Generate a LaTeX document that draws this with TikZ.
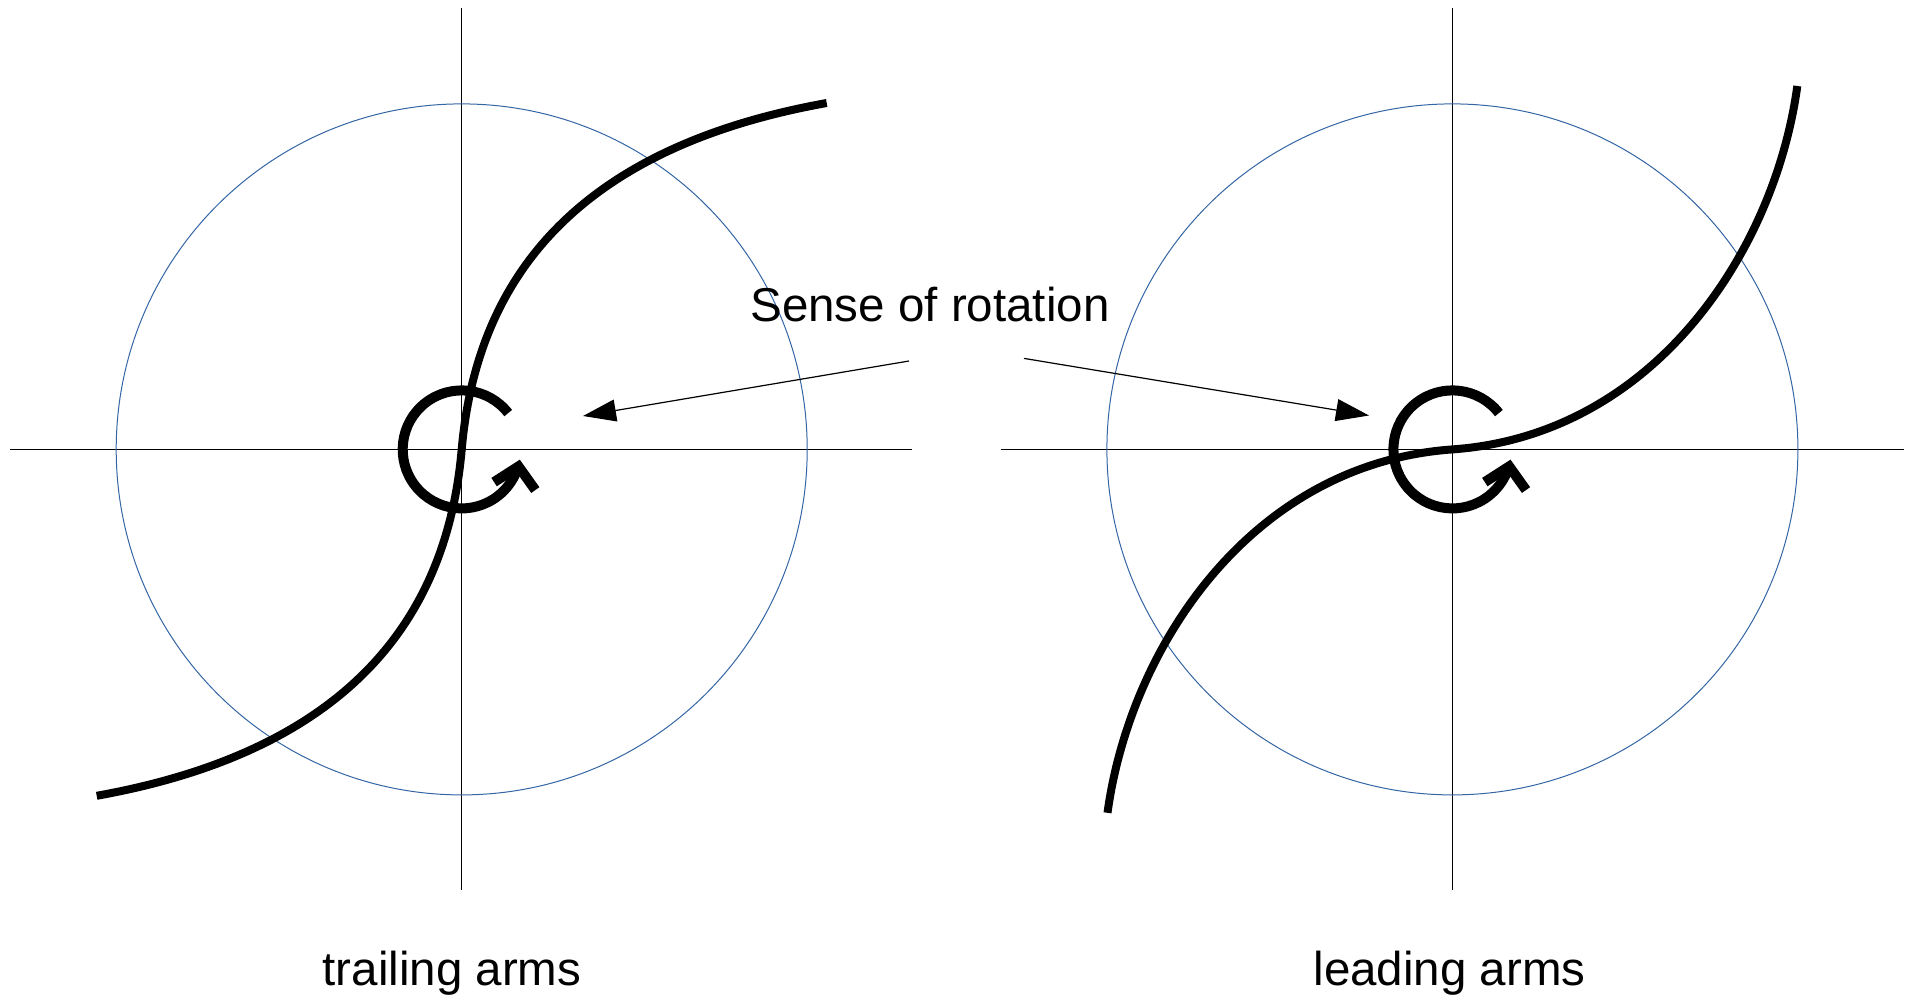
\documentclass[tikz,border=0pt]{standalone}
\usepackage{fontspec}
\setmainfont{Liberation Sans}
\usepackage{tikz}
\usetikzlibrary{
  arrows.meta,
  bending
}
\definecolor{axiscolor}{RGB}{0, 0, 0}
\definecolor{orbitcolor}{RGB}{52, 101, 164}
\definecolor{armcolor}{RGB}{0, 0, 0}
\definecolor{labelcolor}{RGB}{0, 0, 0}
\tikzset{
axisline/.style={
  draw=axiscolor,
  line width=1pt
},
orbit/.style={
  draw=orbitcolor,
  line width=1pt
},
arm/.style={
  draw=armcolor,
  line width=8pt
},
spinarrow/.style={
  -{Straight Barb[sharp,length=20pt,width=42pt]},
  line width=10pt,
  draw=armcolor
},
pointer/.style={
  -{Triangle[length=33pt,width=22pt]},
  line width=1.2pt,
  draw=axiscolor
},
labeltext/.style={
  font=\fontsize{47.5}{57}\selectfont,
  text=labelcolor,
  inner sep=0pt,
  anchor=base
}
}

\begin{document}
\begin{tikzpicture}[x=1pt,y=-1pt]
\useasboundingbox (0,0) rectangle (1913,998);
\coordinate (ctrail) at (461.7,449.4);
\coordinate (clead) at (1452.4,449.4);

% axes and reference circles
\draw[axisline] (10,449.4) -- (912,449.4);
\draw[axisline] (461.7,8) -- (461.7,890);
\draw[orbit] (ctrail) circle[radius=345.5];
\draw[axisline] (1000.5,449.4) -- (1903.5,449.4);
\draw[axisline] (1452.4,8) -- (1452.4,890);
\draw[orbit] (clead) circle[radius=345.5];

% spiral arms
\begin{scope}[shift={(ctrail)}]
  \draw[arm] (-365,346.4) .. controls (-103.3,299.4) and (-14,160) .. (0,0)
    .. controls (14,-160) and (103.3,-299.4) .. (365,-346.4);
  \draw[spinarrow] (-38:59) arc[start angle=-38, end angle=-350, radius=59];
\end{scope}
\begin{scope}[shift={(clead)}]
  \draw[arm] (-344.9,363.4) .. controls (-322.6,199.4) and (-202.6,14.4) .. (0,0)
    .. controls (202.6,-14.4) and (322.6,-199.4) .. (344.9,-363.4);
  \draw[spinarrow] (-38:59) arc[start angle=-38, end angle=-350, radius=59];
\end{scope}

% labels
\node[labeltext] (sense) at (930,321) {Sense of rotation};
\node[labeltext] (trailing) at (452,985) {trailing arms};
\node[labeltext] (leading) at (1449.5,985) {leading arms};

\coordinate (tailA) at (909,361);
\coordinate (headA) at (583,416);
\coordinate (tailB) at (1024,358.4);
\coordinate (headB) at (1369,415.5);
\draw[pointer] (tailA) -- (headA);
\draw[pointer] (tailB) -- (headB);
\end{tikzpicture}
\end{document}
